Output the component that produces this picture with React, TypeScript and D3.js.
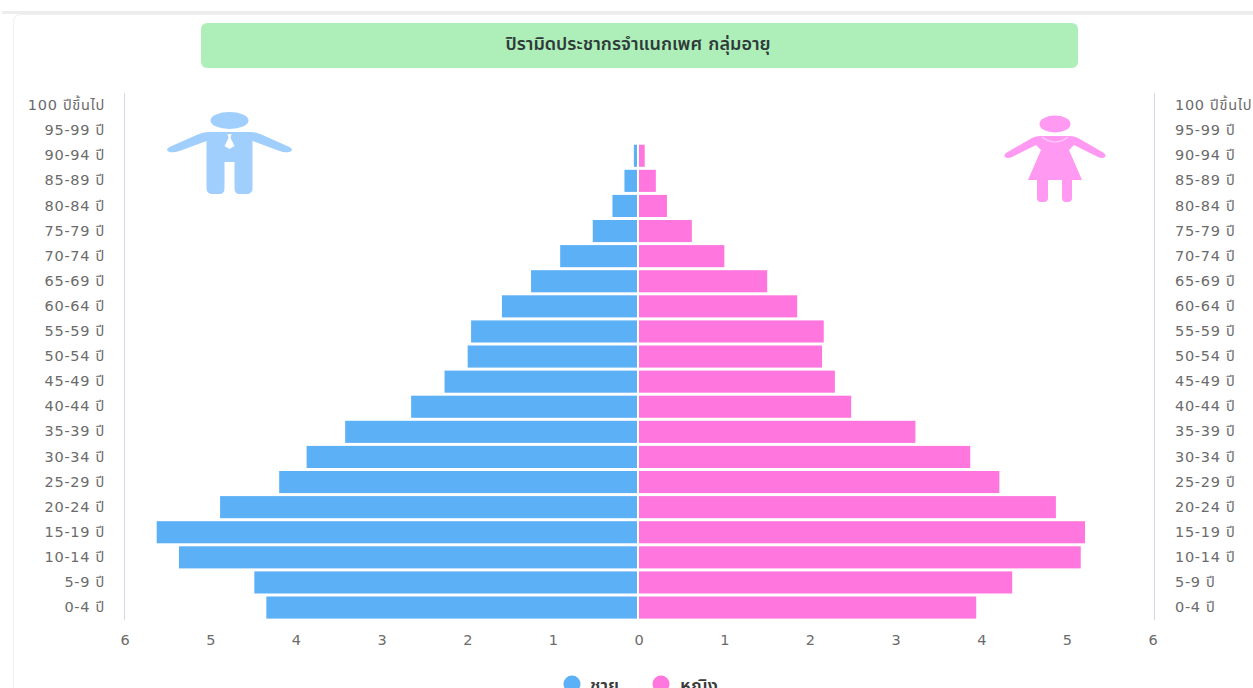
import React, { useEffect, useRef } from "react";
import * as d3 from "d3";

const ageGroups = [
  "100 ปีขึ้นไป", "95-99 ปี", "90-94 ปี", "85-89 ปี", "80-84 ปี", "75-79 ปี", "70-74 ปี",
  "65-69 ปี", "60-64 ปี", "55-59 ปี", "50-54 ปี", "45-49 ปี", "40-44 ปี", "35-39 ปี",
  "30-34 ปี", "25-29 ปี", "20-24 ปี", "15-19 ปี", "10-14 ปี", "5-9 ปี", "0-4 ปี",
];
const maleShare = [0, 0, 0.06, 0.17, 0.31, 0.54, 0.92, 1.26, 1.6, 1.96, 2.0, 2.27, 2.66, 3.43, 3.88, 4.2, 4.89, 5.63, 5.37, 4.49, 4.35];
const femaleShare = [0, 0, 0.09, 0.22, 0.35, 0.64, 1.02, 1.52, 1.87, 2.18, 2.16, 2.31, 2.5, 3.25, 3.89, 4.23, 4.89, 5.23, 5.18, 4.38, 3.96];
const xTicks = [-6, -5, -4, -3, -2, -1, 0, 1, 2, 3, 4, 5, 6];

const titleText = "ปิรามิดประชากรจำแนกเพศ กลุ่มอายุ";
const maleLabel = "ชาย";
const femaleLabel = "หญิง";

const MALE = "#5CB0F6";
const FEMALE = "#FF77DE";
const FONT = "'DejaVu Sans', 'Noto Sans Thai', Tahoma, sans-serif";

const W = 1253;
const H = 688;

// Pictogram of a man in a suit, centred on its own origin.
function ManIcon() {
  return (
    <g transform="translate(229.5,0)" fill="#A0CFFE">
      <ellipse cx={0} cy={120.5} rx={19} ry={8.5} />
      <path d="M-21,132 L21,132 Q27,132 33,135 L60,147 Q65,150 60,152 Q55,153 50,151 L23,141 L23,188 Q23,194 17,194 L10,194 Q5,194 5,188 L5,162 L-5,162 L-5,188 Q-5,194 -10,194 L-17,194 Q-23,194 -23,188 L-23,141 L-50,151 Q-56,153 -60,152 Q-65,150 -60,147 L-33,135 Q-27,132 -21,132 Z" />
      <path d="M-2,134 L2,134 L1,138 L5,146 L0,149 L-5,146 L-1,138 Z" fill="#fff" />
    </g>
  );
}

// Pictogram of a woman in a dress, centred on its own origin.
function WomanIcon() {
  return (
    <g transform="translate(1055,0)" fill="#FF99F2">
      <ellipse cx={0} cy={124} rx={15.5} ry={8.5} />
      <path d="M-15,136 L15,136 Q19,136 23,138 L49,153 Q53,157 47,158 Q44,158 41,156 L19,145 L14,150 L27,180 L17,180 L17,198 Q17,202 13,202 L11,202 Q7,202 7,198 L7,180 L-7,180 L-7,198 Q-7,202 -11,202 L-14,202 Q-18,202 -18,198 L-18,180 L-27,180 L-14,150 L-19,145 L-41,156 Q-44,158 -47,158 Q-53,157 -49,153 L-23,138 Q-19,136 -15,136 Z" />
      <path d="M-13,137 Q0,147 13,137" fill="none" stroke="#FFD0F8" strokeWidth={1.2} />
    </g>
  );
}

export default function App() {
  const plotRef = useRef<SVGGElement | null>(null);

  useEffect(() => {
    const root = d3.select(plotRef.current);
    root.selectAll("*").remove();

    const x = d3.scaleLinear().domain([-6, 6]).range([125, 1153]);
    const y = d3.scaleBand<string>().domain(ageGroups).range([93, 620.1]).paddingInner(0).paddingOuter(0);
    const barTop = 0.5;
    const barHeight = y.bandwidth() - 1;

    const styleTicks = (g: any) => {
      g.selectAll("line").remove();
      g.select(".domain").remove();
      g.selectAll("text")
        .attr("fill", "#6b6b6b")
        .style("font-family", FONT)
        .style("font-size", "14.5px")
        .style("letter-spacing", "0.7px");
    };

    // Vertical axis rules on both sides of the pyramid.
    [124.5, 1154.5].forEach((px) => {
      root.append("line")
        .attr("x1", px).attr("x2", px)
        .attr("y1", 93).attr("y2", 620)
        .attr("stroke", "#D4D7E8").attr("stroke-width", 1);
    });

    root.append("g")
      .attr("transform", "translate(113,0)")
      .call(d3.axisLeft(y).tickSize(0).tickPadding(8) as any)
      .call(styleTicks);

    root.append("g")
      .attr("transform", "translate(1167,0)")
      .call(d3.axisRight(y).tickSize(0).tickPadding(8) as any)
      .call(styleTicks);

    root.append("g")
      .attr("transform", "translate(0,631)")
      .call(
        d3.axisBottom(x).tickValues(xTicks).tickSize(0).tickPadding(4)
          .tickFormat((d: any) => String(Math.abs(d))) as any
      )
      .call(styleTicks);

    // The bars sit one pixel left of the tick centre, so both halves meet at the zero gap.
    const bars = root.append("g").attr("transform", "translate(-1,0)");
    bars.selectAll("rect.male")
      .data(ageGroups)
      .join("rect")
      .attr("class", "male")
      .attr("x", (_, i) => x(-maleShare[i]))
      .attr("width", (_, i) => x(0) - x(-maleShare[i]))
      .attr("y", (d) => y(d)! + barTop)
      .attr("height", barHeight)
      .attr("fill", MALE)
      .attr("stroke", "#fff")
      .attr("stroke-width", (_, i) => (maleShare[i] > 0 ? 2 : 0));

    bars.selectAll("rect.female")
      .data(ageGroups)
      .join("rect")
      .attr("class", "female")
      .attr("x", x(0))
      .attr("width", (_, i) => x(femaleShare[i]) - x(0))
      .attr("y", (d) => y(d)! + barTop)
      .attr("height", barHeight)
      .attr("fill", FEMALE)
      .attr("stroke", "#fff")
      .attr("stroke-width", (_, i) => (femaleShare[i] > 0 ? 2 : 0));
  }, []);

  return (
    <svg
      width={W}
      height={H}
      viewBox={`0 0 ${W} ${H}`}
      style={{ position: "absolute", left: 0, top: 0, background: "#fff" }}
    >
      <rect x={2} y={11} width={W} height={3} fill="#EDEDED" />
      <path d={`M13.5,${H} L13.5,22 Q13.5,14.5 21,14.5 L${W},14.5`} fill="none" stroke="#F0F0F0" />

      <rect x={201} y={23} width={877} height={45} rx={6} fill="#AEEFB9" />
      <text x={638} y={50} textAnchor="middle" fontFamily={FONT} fontSize={18} fontWeight={600} fill="#2F3B3A">
        {titleText}
      </text>

      <ManIcon />
      <WomanIcon />

      <g ref={plotRef} />

      <circle cx={572} cy={684} r={8.5} fill={MALE} />
      <text x={590} y={692} fontFamily={FONT} fontSize={18} fontWeight={600} fill="#3A3A3A">{maleLabel}</text>
      <circle cx={661} cy={684} r={8.5} fill={FEMALE} />
      <text x={680} y={692} fontFamily={FONT} fontSize={18} fontWeight={600} fill="#3A3A3A">{femaleLabel}</text>
    </svg>
  );
}
